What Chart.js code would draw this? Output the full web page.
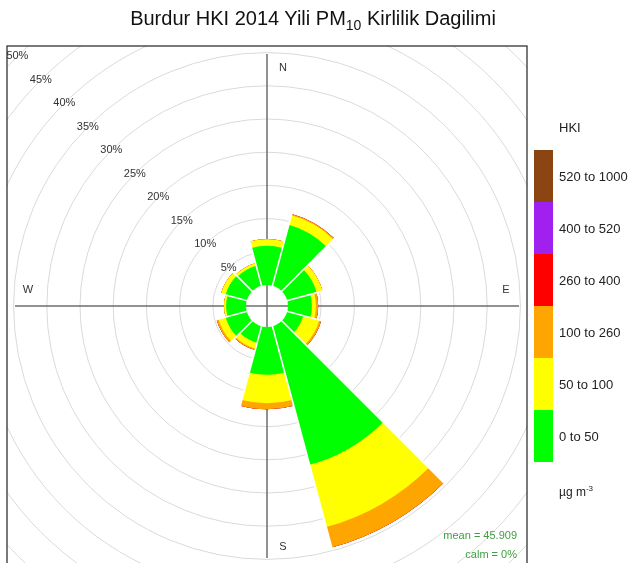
<!DOCTYPE html>
<html>
<head>
<meta charset="utf-8">
<script src="https://cdn.jsdelivr.net/npm/chart.js@4.4.0/dist/chart.umd.min.js"></script>
<style>
body { margin: 0; background: #fff; font-family: "Liberation Sans", Arial, sans-serif; color: #222; }
#wrap { position: relative; width: 635px; height: 563px; overflow: hidden; }
#rose { position: absolute; left: -86px; top: -47px; }
#title { position: absolute; left: 0; width: 626px; top: 8px; text-align: center; font-size: 20px; line-height: 20px; color: #111; }
#title sub { font-size: 14px; line-height: 0; vertical-align: -5px; }
#legend { position: absolute; left: 0; top: 0; width: 635px; height: 563px; pointer-events: none; }
.lg { position: absolute; font-size: 13px; line-height: 14px; color: #222; white-space: nowrap; }
.sw { position: absolute; left: 534px; width: 19px; }
</style>
</head>
<body>
<div id="wrap">
  <canvas id="rose" width="721" height="706"></canvas>
  <div id="title">Burdur HKI 2014 Yili PM<sub>10</sub> Kirlilik Dagilimi</div>
  <div id="legend"></div>
</div>
<script>
// Wind sectors (30 degrees each, starting at north, clockwise)
const directions = ['N', 'NNE', 'ENE', 'E', 'ESE', 'SSE', 'S', 'SSW', 'WSW', 'W', 'WNW', 'NW'];

// Frequency (%) of each PM10 band per sector
const band0to50     = [5.9, 9.5, 4.6, 3.6, 2.5, 21.6, 7.2, 2.6, 3.3, 3.0, 3.3, 3.1];
const band50to100   = [1.0, 1.5, 0.9, 0.6, 2.5, 9.7, 4.3, 0.9, 1.1, 0.3, 0.7, 0.4];
const band100to260  = [0.0, 0.2, 0.0, 0.35, 0.3, 3.2, 0.9, 0.2, 0.3, 0.0, 0.0, 0.0];
const band260to400  = [0, 0, 0, 0, 0, 0, 0, 0, 0, 0, 0, 0];
const band400to520  = [0, 0, 0, 0, 0, 0, 0, 0, 0, 0, 0, 0];
const band520to1000 = [0, 0, 0, 0, 0, 0, 0, 0, 0, 0, 0, 0];

const binLabels = ['0 to 50', '50 to 100', '100 to 260', '260 to 400', '400 to 520', '520 to 1000'];
const binColors = ['#00ff00', '#ffff00', '#ffa500', '#ff0000', '#a020f0', '#8b4513'];

// Radial axis rings (%)
const ringTicks = [5, 10, 15, 20, 25, 30, 35, 40, 45, 50];
const holeOffset = -3.16;   // empty centre, as in openair
const meanText = 'mean = 45.909';
const calmText = 'calm = 0%';

const bands = [band0to50, band50to100, band100to260, band260to400, band400to520, band520to1000];

// stacked sectors: each dataset is the running total up to that band
function cumulative(k) {
    return directions.map(function(d, i) {
        let s = 0;
        for (let j = 0; j <= k; j++) s += bands[j][i];
        return +s.toFixed(3);
    });
}
const totals = cumulative(bands.length - 1);

// panel square in canvas coords (canvas is shifted by -86,-47)
const PX = 93, PY = 93, PS = 520;

const panelPlugin = {
    id: 'panel',
    beforeDraw(chart) {
        const c = chart.ctx;
        c.save();
        c.beginPath();
        c.rect(PX, PY, PS, PS);
        c.clip();
    },
    beforeDatasetsDraw(chart) {
        const c = chart.ctx, s = chart.scales.r;
        const L = 252;
        c.save();
        c.strokeStyle = '#6e6e6e';
        c.lineWidth = 1.5;
        c.beginPath();
        c.moveTo(s.xCenter - L, s.yCenter); c.lineTo(s.xCenter + L, s.yCenter);
        c.moveTo(s.xCenter, s.yCenter - L); c.lineTo(s.xCenter, s.yCenter + L);
        c.stroke();
        c.restore();
    },
    afterDatasetsDraw(chart) {
        const c = chart.ctx, s = chart.scales.r;
        const cx = s.xCenter, cy = s.yCenter;
        const n = directions.length;
        const step = 2 * Math.PI / n;
        const start = -Math.PI / 2 - step / 2;

        // white gaps between sectors
        c.save();
        c.strokeStyle = '#ffffff';
        c.lineWidth = 1.6;
        for (let i = 0; i < n; i++) {
            const a = start + i * step;
            const v = Math.max(totals[i], totals[(i + n - 1) % n]);
            const r = s.getDistanceFromCenterForValue(v) + 1;
            c.beginPath();
            c.moveTo(cx, cy);
            c.lineTo(cx + r * Math.cos(a), cy + r * Math.sin(a));
            c.stroke();
        }
        // hole
        const r0 = s.getDistanceFromCenterForValue(0);
        c.fillStyle = '#ffffff';
        c.beginPath();
        c.arc(cx, cy, r0, 0, 2 * Math.PI);
        c.fill();
        c.strokeStyle = '#6e6e6e';
        c.lineWidth = 1.5;
        c.beginPath();
        c.moveTo(cx - r0, cy); c.lineTo(cx + r0, cy);
        c.moveTo(cx, cy - r0); c.lineTo(cx, cy + r0);
        c.stroke();

        // ring labels along the NW diagonal
        c.fillStyle = '#333';
        c.font = '11px "Liberation Sans", Arial, sans-serif';
        c.textAlign = 'center';
        c.textBaseline = 'middle';
        ringTicks.forEach(function(v) {
            const r = s.getDistanceFromCenterForValue(v);
            c.fillText(v + '%', cx - r * Math.SQRT1_2, cy - r * Math.SQRT1_2);
        });

        // compass letters
        c.fillStyle = '#333';
        c.font = '11px "Liberation Sans", Arial, sans-serif';
        c.fillText('N', cx + 16, cy - 238);
        c.fillText('S', cx + 16, cy + 241);
        c.fillText('W', cx - 239, cy - 16);
        c.fillText('E', cx + 239, cy - 16);

        // mean / calm
        c.fillStyle = '#3f9f3f';
        c.font = '11px "Liberation Sans", Arial, sans-serif';
        c.textAlign = 'right';
        c.fillText(meanText, 603, 583);
        c.fillText(calmText, 603, 602);
        c.restore();

        c.restore(); // end panel clip
    },
    afterDraw(chart) {
        const c = chart.ctx;
        c.save();
        c.strokeStyle = '#222';
        c.lineWidth = 1.2;
        c.strokeRect(PX, PY, PS, PS);
        c.restore();
    }
};

const ctx = document.getElementById('rose').getContext('2d');
new Chart(ctx, {
    type: 'polarArea',
    data: {
        labels: directions,
        datasets: bands.map(function(b, k) {
            return {
                label: binLabels[k],
                data: cumulative(k),
                backgroundColor: binColors[k],
                borderWidth: 0
            };
        })
    },
    options: {
        responsive: false,
        animation: false,
        layout: { padding: { left: 0, top: 0, right: 15, bottom: 0 } },
        plugins: {
            legend: { display: false },
            tooltip: { enabled: false }
        },
        scales: {
            r: {
                min: holeOffset,
                max: 50,
                bounds: 'data',
                beginAtZero: false,
                startAngle: -15,
                afterBuildTicks: function(scale) {
                    scale.ticks = ringTicks.map(function(v) { return { value: v }; });
                },
                grid: { circular: true, color: '#dadada', lineWidth: 1 },
                angleLines: { display: false },
                pointLabels: { display: false },
                ticks: { display: false }
            }
        }
    },
    plugins: [panelPlugin]
});

// colour key
const legend = document.getElementById('legend');
const segH = 52, barTop = 150;
let html = '<div class="lg" style="left:559px;top:121px">HKI</div>';
for (let k = binLabels.length - 1; k >= 0; k--) {
    const row = binLabels.length - 1 - k;
    const y = barTop + row * segH;
    html += '<div class="sw" style="top:' + y + 'px;height:' + segH + 'px;background:' + binColors[k] + '"></div>';
    html += '<div class="lg" style="left:559px;top:' + (y + segH / 2 - 6) + 'px">' + binLabels[k] + '</div>';
}
html += '<div class="lg" style="left:559px;top:482px;font-size:12px">\u00b5g m<sup style="font-size:8px">-3</sup></div>';
legend.innerHTML = html;
</script>
</body>
</html>
